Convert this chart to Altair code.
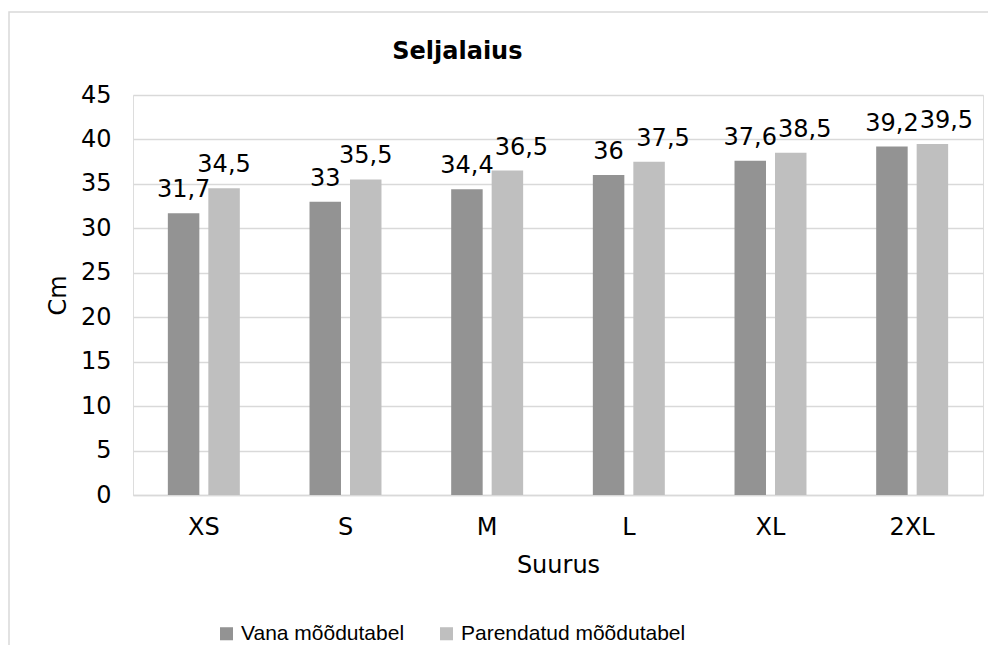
import altair as alt
import pandas as pd

sizes = ["XS", "S", "M", "L", "XL", "2XL"]
vana = [31.7, 33, 34.4, 36, 37.6, 39.2]
parendatud = [34.5, 35.5, 36.5, 37.5, 38.5, 39.5]
series = ["Vana mõõdutabel", "Parendatud mõõdutabel"]
colors = ["#939393", "#bfbfbf"]
y_ticks = [0, 5, 10, 15, 20, 25, 30, 35, 40, 45]

rows = []
for i, s in enumerate(sizes):
    # light label is nudged sideways when the two labels would collide vertically
    crowded = (parendatud[i] - vana[i]) < 2.3
    rows.append({"Suurus": s, "Seeria": series[0], "Cm": vana[i], "nudge": False})
    rows.append({"Suurus": s, "Seeria": series[1], "Cm": parendatud[i], "nudge": crowded})
df = pd.DataFrame(rows)
df["label"] = df["Cm"].map(lambda v: f"{v:g}".replace(".", ","))

FONT = "DejaVu Sans"

x_enc = alt.X(
    "Suurus:N",
    sort=sizes,
    scale=alt.Scale(paddingInner=0.492, paddingOuter=0.246),
    axis=alt.Axis(
        labelAngle=0, ticks=False, grid=False,
        domainColor="#d9d9d9", domainWidth=1.5,
        labelFontSize=24, labelFont=FONT, labelColor="#000", labelPadding=20,
        title="Suurus", titleFontSize=24, titleFont=FONT, titleFontWeight="normal",
        titleColor="#000", titlePadding=14,
    ),
)
xo_enc = alt.XOffset(
    "Seeria:N", sort=series,
    scale=alt.Scale(paddingInner=0.222, paddingOuter=0),
)
y_enc = alt.Y(
    "Cm:Q",
    scale=alt.Scale(domain=[0, 45], nice=False),
    axis=alt.Axis(
        values=y_ticks, grid=True, gridColor="#d9d9d9", gridWidth=1.5,
        domain=False, ticks=False,
        labelFontSize=24, labelFont=FONT, labelColor="#000", labelPadding=22,
        title="Cm", titleFontSize=24, titleFont=FONT, titleFontWeight="normal",
        titleColor="#000", titleX=-75, titleY=200, titleAngle=270,
        titleAlign="center", titleBaseline="middle",
    ),
)

base = alt.Chart(df)

bars = base.mark_bar().encode(
    x=x_enc,
    xOffset=xo_enc,
    y=y_enc,
    color=alt.Color(
        "Seeria:N", sort=series,
        scale=alt.Scale(domain=series, range=colors),
        legend=alt.Legend(
            orient="none", legendX=83, legendY=528, direction="horizontal",
            title=None, symbolType="square", symbolSize=170, symbolStrokeWidth=0,
            labelFontSize=21, labelFont="Liberation Sans", labelColor="#000",
            labelLimit=0, columnPadding=31, labelOffset=4,
        ),
    ),
)

text_enc = dict(
    x=alt.X("Suurus:N", sort=sizes),
    xOffset=alt.XOffset("Seeria:N", sort=series),
    y=alt.Y("Cm:Q"),
    text="label:N",
)

labels_plain = base.transform_filter("!datum.nudge").mark_text(
    font=FONT, fontSize=24, color="#000", baseline="alphabetic", dy=-16
).encode(**text_enc)

labels_nudged = base.transform_filter("datum.nudge").mark_text(
    font=FONT, fontSize=24, color="#000", baseline="alphabetic", dy=-16, dx=14
).encode(**text_enc)

border = alt.Chart(pd.DataFrame({"k": [0]})).mark_rect(
    fillOpacity=0, stroke="#d9d9d9", strokeWidth=1.5
).encode(
    x=alt.value(-124), x2=alt.value(900), y=alt.value(-83), y2=alt.value(620)
)

chart = alt.layer(border, bars, labels_plain, labels_nudged).properties(
    width=850,
    height=400,
    title=alt.TitleParams(
        "Seljalaius", anchor="start", dx=384, fontSize=24, font=FONT,
        fontWeight="bold", color="#000", offset=-53,
    ),
    autosize=alt.AutoSizeParams(type="none"),
    padding={"left": 125, "top": 87, "right": 5, "bottom": 150},
).configure_view(stroke=None).configure(background="white")

chart.save("out.html", embed_options={"renderer": "svg", "actions": False})
